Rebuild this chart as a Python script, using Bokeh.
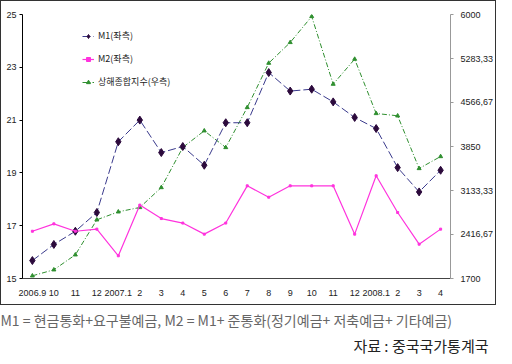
from bokeh.plotting import figure
from bokeh.layouts import column
from bokeh.models import Range1d, LinearAxis, FixedTicker, Legend, LegendItem, Title, InlineStyleSheet
from bokeh.embed import file_html
from bokeh.resources import INLINE

months = ["2006.9", "10", "11", "12", "2007.1", "2", "3", "4", "5", "6", "7", "8",
          "9", "10", "11", "12", "2008.1", "2", "3", "4"]
m1 = [15.68, 16.29, 16.79, 17.5, 20.18, 21.0, 19.77, 20.0, 19.29, 20.9, 20.9, 22.8,
      22.1, 22.17, 21.69, 21.1, 20.68, 19.2, 18.28, 19.1]
m2 = [16.79, 17.07, 16.79, 16.87, 15.86, 17.78, 17.27, 17.1, 16.68, 17.1, 18.51, 18.08,
      18.51, 18.51, 18.51, 16.68, 18.89, 17.5, 16.3, 16.87]
shanghai = [1744, 1842, 2086, 2656, 2786, 2857, 3182, 3834, 4106, 3834, 4486, 5208,
            5545, 5968, 4866, 5273, 4388, 4350, 3492, 3687]
left_ticks = [15, 17, 19, 21, 23, 25]
right_ticks = [1700, 2416.67, 3133.33, 3850, 4566.67, 5283.33, 6000]
right_tick_labels = ["1700", "2416,67", "3133,33", "3850", "4566,67", "5283,33", "6000"]
legend_labels = ["M1(좌측)", "M2(좌측)", "상해종합지수(우측)"]
note = "M1 = 현금통화+요구불예금, M2 = M1+ 준통화(정기예금+ 저축예금+ 기타예금)"
source_note = "자료 : 중국국가통계국"

W, H1, H2 = 496, 305, 50
x = list(range(len(months)))
FONT = "Liberation Sans"

p = figure(width=W, height=H1, output_backend="svg", toolbar_location=None,
           x_range=Range1d(-0.46, len(months) - 1 + 0.46), y_range=Range1d(15, 25),
           min_border_left=22, min_border_right=39, min_border_top=14, min_border_bottom=27)
p.stylesheets = [InlineStyleSheet(css=":host { outline: 1px solid #333333; outline-offset: -1px; }")]
p.grid.visible = False
p.outline_line_color = None
p.background_fill_color = "white"
p.border_fill_alpha = 0
p.extra_y_ranges = {"right": Range1d(1700, 6000)}

# axes
p.xaxis.ticker = FixedTicker(ticks=x)
p.xaxis.major_label_overrides = {i: m for i, m in enumerate(months)}
p.xaxis.major_tick_line_color = None
p.xaxis.minor_tick_line_color = None
p.xaxis.axis_line_color = "#444444"
p.xaxis.major_label_standoff = 5

p.yaxis.ticker = FixedTicker(ticks=left_ticks)
p.yaxis.minor_tick_line_color = None
p.yaxis.major_tick_in = 0
p.yaxis.major_tick_out = 3
p.yaxis.axis_line_color = "black"
p.yaxis.major_label_standoff = 3

ra = LinearAxis(y_range_name="right", ticker=FixedTicker(ticks=right_ticks))
ra.major_label_overrides = {v: s for v, s in zip(right_ticks, right_tick_labels)}
ra.minor_tick_line_color = None
ra.major_tick_in = 0
ra.major_tick_out = 3
ra.axis_line_color = "#999999"
ra.major_tick_line_color = "#999999"
ra.major_label_standoff = 7
p.add_layout(ra, "right")

for ax in [p.xaxis[0], p.yaxis[0], ra]:
    ax.major_label_text_font = FONT
    ax.major_label_text_font_size = "9px"
    ax.major_label_text_color = "#222222"

# series
sh_line = p.line(x, shanghai, y_range_name="right", line_color="#2f8f2f", line_width=1,
                 line_dash="5 2 1 2")
sh_pts = p.scatter(x, shanghai, y_range_name="right", marker="triangle", size=4,
                   color="#2f8f2f")
m1_line = p.line(x, m1, line_color="#3a3a8c", line_width=1, line_dash="8 3")
m1_pts = p.scatter(x, m1, marker="diamond", size=8, color="#2c0a3c")
m2_line = p.line(x, m2, line_color="#ff33dd", line_width=1.2)
m2_pts = p.scatter(x, m2, marker="square", size=2, color="#ff33dd")

legend = Legend(items=[
    LegendItem(label=legend_labels[0], renderers=[m1_line, m1_pts]),
    LegendItem(label=legend_labels[1], renderers=[m2_line, m2_pts]),
    LegendItem(label=legend_labels[2], renderers=[sh_line, sh_pts]),
], location=(60, 190))
legend.border_line_color = None
legend.background_fill_alpha = 0
legend.label_text_font = "Noto Sans CJK KR"
legend.label_text_font_size = "9px"
legend.label_text_color = "#222222"
legend.glyph_width = 12
legend.glyph_height = 10
legend.spacing = 10
legend.label_standoff = 4
legend.padding = 0
legend.label_height = 12
p.add_layout(legend, "center")

# notes below the bordered chart
q = figure(width=W, height=H2, output_backend="svg", toolbar_location=None,
           x_range=Range1d(0, 1), y_range=Range1d(0, 1),
           x_axis_location=None, y_axis_location=None,
           min_border_top=48, min_border_bottom=0)
q.grid.visible = False
q.outline_line_color = None
q.background_fill_alpha = 0
q.border_fill_alpha = 0
t_src = Title(text=source_note, align="right", text_font="Noto Sans CJK KR",
              text_font_size="15px", text_font_style="normal", text_color="#222222",
              standoff=0, offset=-38)
t_note = Title(text=note, align="left", text_font="Noto Sans CJK KR",
               text_font_size="14px", text_font_style="normal", text_color="#666666",
               standoff=6, offset=-22)
q.add_layout(t_src, "above")
q.add_layout(t_note, "above")

open("out.html", "w").write(file_html(column(p, q), INLINE))
